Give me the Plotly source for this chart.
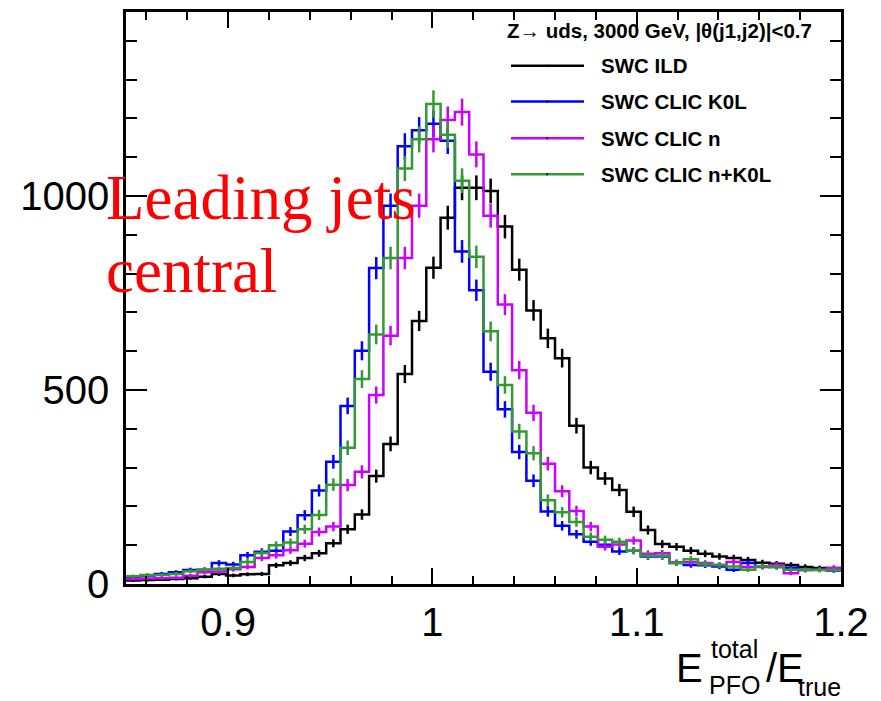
import numpy as np
import plotly.graph_objects as go

# ---- data (50 bins, 0.85 - 1.20, width 0.007) ----
bin_lo = 0.85
bin_w = 0.007
n_bins = 50

names = ["SWC ILD", "SWC CLIC K0L", "SWC CLIC n", "SWC CLIC n+K0L"]
colors = ["#000000", "#0000ff", "#cc00ff", "#339933"]

ild = [9, 10, 11, 13, 15, 19, 26, 22, 25, 26, 48, 54, 67, 79, 105, 141, 179, 278, 361, 541,
       678, 815, 944, 1021, 1021, 1013, 921, 810, 705, 633, 582, 408, 300, 272, 242, 186, 139, 103, 96, 86,
       78, 71, 67, 62, 55, 52, 49, 44, 41, 38]
clic_k0l = [19, 22, 26, 30, 36, 37, 54, 50, 74, 83, 86, 135, 177, 241, 315, 459, 601, 814, 975, 1128,
            1169, 1186, 1142, 857, 757, 547, 450, 340, 266, 187, 150, 128, 109, 101, 84, 86, 71, 71, 54, 49,
            48, 45, 37, 54, 45, 44, 42, 37, 37, 35]
clic_n = [13, 14, 15, 16, 21, 30, 32, 38, 44, 67, 74, 87, 104, 134, 148, 255, 289, 487, 640, 840,
          975, 1146, 1196, 1216, 1107, 949, 720, 551, 441, 310, 239, 188, 148, 96, 102, 112, 78, 79, 56, 56,
          54, 49, 57, 44, 44, 49, 28, 36, 37, 42]
clic_nk0l = [20, 23, 23, 26, 33, 37, 39, 41, 57, 80, 100, 107, 141, 178, 256, 351, 528, 643, 840, 1071,
             1146, 1237, 1158, 1039, 843, 651, 513, 393, 337, 216, 185, 160, 122, 114, 109, 86, 73, 73, 54, 64,
             51, 49, 45, 37, 46, 44, 37, 36, 36, 36]
series = [ild, clic_k0l, clic_n, clic_nk0l]

header = "Z\u2192 uds, 3000 GeV, |\u03b8(j1,j2)|<0.7"

x_range = [0.85, 1.20]
y_range = [0, 1474]

# ---- layout geometry (pixels) ----
W, H = 881, 701
L, R, T, B = 126, 841, 9, 584


def px(x):
    return (x - L) / (R - L)


def py(y):
    return (B - y) / (B - T)


edges = bin_lo + bin_w * np.arange(n_bins + 1)
centers = edges[:-1] + bin_w / 2

fig = go.Figure()
for name, col, vals in zip(names, colors, series):
    v = np.array(vals, dtype=float)
    fig.add_trace(go.Scatter(
        x=edges, y=np.append(v, v[-1]), mode="lines", line_shape="hv",
        line=dict(color=col, width=2.5), name=name, showlegend=False, hoverinfo="skip"))
    fig.add_trace(go.Scatter(
        x=centers, y=v, mode="markers", marker=dict(size=1, color=col, opacity=0),
        error_y=dict(type="data", array=np.sqrt(v), width=0, thickness=2.5, color=col),
        showlegend=False, hoverinfo="skip"))

SANS = "Liberation Sans, Arial, sans-serif"
tickfont = dict(family=SANS, size=40, color="black")
fig.update_xaxes(range=x_range, tick0=0.9, dtick=0.1, ticks="inside", ticklen=16, tickwidth=2,
                 tickcolor="black", showline=True, linecolor="black", linewidth=2.5, mirror="allticks",
                 showgrid=False, zeroline=False, tickfont=tickfont, ticklabelstandoff=1,
                 minor=dict(ticks="inside", ticklen=8, tickwidth=2, dtick=0.02, tick0=0.86,
                            tickcolor="black", showgrid=False))
fig.update_yaxes(range=y_range, tick0=0, dtick=500, ticks="inside", ticklen=21, tickwidth=2,
                 tickcolor="black", showline=True, linecolor="black", linewidth=2.5, mirror="allticks",
                 showgrid=False, zeroline=False, tickfont=tickfont, ticklabelstandoff=6,
                 minor=dict(ticks="inside", ticklen=11, tickwidth=2, dtick=100, tick0=0,
                            tickcolor="black", showgrid=False))

ann = []
shapes = []
# header
ann.append(dict(x=px(659), y=py(28), xref="paper", yref="paper", text=header, showarrow=False,
                xanchor="center", yanchor="middle",
                font=dict(family=SANS, size=20.5, color="black", weight="bold")))
# legend
leg_y = [63, 99, 136, 172]
for name, col, yy in zip(names, colors, leg_y):
    shapes.append(dict(type="line", xref="paper", yref="paper", x0=px(511), x1=px(584), y0=py(yy), y1=py(yy),
                       line=dict(color=col, width=2.5)))
    shapes.append(dict(type="line", xref="paper", yref="paper", x0=px(546.5), x1=px(548), y0=py(yy), y1=py(yy),
                       line=dict(color="black", width=2)))
    ann.append(dict(x=px(599), y=py(yy), xref="paper", yref="paper", text=name, showarrow=False,
                    xanchor="left", yanchor="middle",
                    font=dict(family=SANS, size=20.5, color="black", weight="bold")))
# red label
for txt, yy in [("Leading jets", 196), ("central", 269)]:
    ann.append(dict(x=px(104), y=py(yy), xref="paper", yref="paper", text=txt, showarrow=False,
                    xanchor="left", yanchor="middle",
                    font=dict(family="Liberation Serif, Times New Roman, serif", size=63, color="red")))
# x-axis title pieces
big = dict(family=SANS, size=40, color="black")
small = dict(family=SANS, size=25, color="black")
ann.append(dict(x=px(705), y=py(668), xref="paper", yref="paper", text="E", showarrow=False,
                xanchor="right", yanchor="middle", font=big))
ann.append(dict(x=px(709), y=py(649), xref="paper", yref="paper", text="total", showarrow=False,
                xanchor="left", yanchor="middle", font=small))
ann.append(dict(x=px(707), y=py(686), xref="paper", yref="paper", text="PFO", showarrow=False,
                xanchor="left", yanchor="middle", font=small))
ann.append(dict(x=px(764), y=py(668), xref="paper", yref="paper", text="/E", showarrow=False,
                xanchor="left", yanchor="middle", font=big))
ann.append(dict(x=px(843), y=py(688), xref="paper", yref="paper", text="true", showarrow=False,
                xanchor="right", yanchor="middle", font=small))

fig.update_layout(width=W, height=H, margin=dict(l=L, r=W - R, t=T, b=H - B, pad=0),
                  paper_bgcolor="white", plot_bgcolor="white", annotations=ann, shapes=shapes,
                  showlegend=False)
fig.write_html("out.html")
